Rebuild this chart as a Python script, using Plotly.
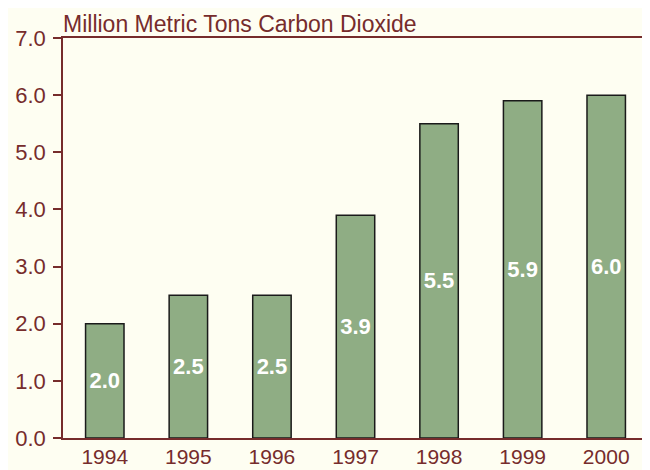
import plotly.graph_objects as go

years = ["1994", "1995", "1996", "1997", "1998", "1999", "2000"]
values = [2.0, 2.5, 2.5, 3.9, 5.5, 5.9, 6.0]
labels = ["2.0", "2.5", "2.5", "3.9", "5.5", "5.9", "6.0"]

axis_col = "#762C2C"
bg = "#FEFEF2"

fig = go.Figure(go.Bar(
    x=years, y=values, text=labels,
    textposition="inside", insidetextanchor="middle",
    textfont=dict(family="Arial, Liberation Sans", size=22, color="white", weight="bold"),
    marker=dict(color="#8FAD84", line=dict(color="#1A1A1A", width=1.5)),
    width=0.46,
))

fig.update_layout(
    width=650, height=470,
    margin=dict(l=55, r=10, t=30, b=40, autoexpand=False),
    paper_bgcolor=bg, plot_bgcolor=bg,
    font=dict(family="Arial, Liberation Sans", size=22, color=axis_col),
    showlegend=False,
    uniformtext=dict(mode=False),
    annotations=[dict(text="Million Metric Tons Carbon Dioxide", xref="paper", yref="paper",
                      x=0, y=1, xanchor="left", yanchor="bottom", showarrow=False,
                      font=dict(size=23, color=axis_col), yshift=-1, xshift=-2)],
)
fig.update_yaxes(range=[0, 7], dtick=1, tickformat=".1f", showgrid=False,
                 ticks="outside", ticklen=8, tickcolor=axis_col, tickwidth=1.5,
                 ticklabelstandoff=3,
                 showline=True, linecolor=axis_col, linewidth=1.5, mirror=True,
                 zeroline=False, automargin=False)
fig.update_xaxes(showgrid=False, ticks="", showline=True, linecolor=axis_col,
                 linewidth=1.5, mirror=True, automargin=False, ticklabelstandoff=-1,
                 tickfont=dict(size=21))

fig.write_html("out.html")
